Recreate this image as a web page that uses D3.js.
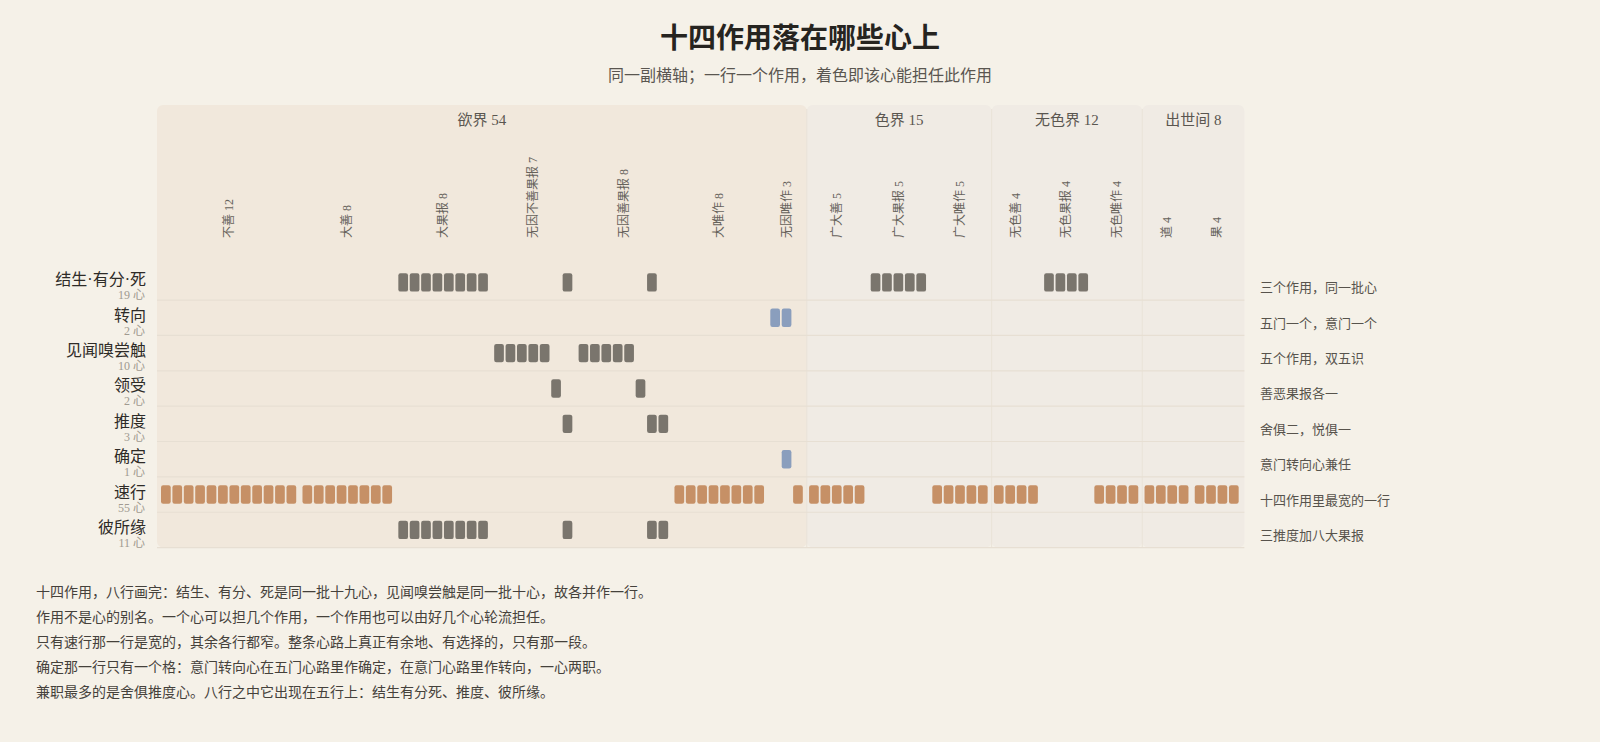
<!DOCTYPE html>
<html>
<head>
<meta charset="utf-8">
<script src="https://cdn.jsdelivr.net/npm/d3@7"></script>
<style>
  html, body { margin: 0; padding: 0; background: #f5f1e8; }
  svg { display: block; font-family: "Liberation Serif", "DejaVu Serif", "Noto Sans CJK SC", serif; }
</style>
</head>
<body>
<svg></svg>
<script>
// realms (top bands)
const realms = ["欲界", "色界", "无色界", "出世间"];
const realmCounts = [54, 15, 12, 8];

// sub-groups along the x axis
const groups = ["不善", "大善", "大果报", "无因不善果报", "无因善果报", "大唯作", "无因唯作",
  "广大善", "广大果报", "广大唯作", "无色善", "无色果报", "无色唯作", "道", "果"];
const groupSizes = [12, 8, 8, 7, 8, 8, 3, 5, 5, 5, 4, 4, 4, 4, 4];
const groupRealm = [0, 0, 0, 0, 0, 0, 0, 1, 1, 1, 2, 2, 2, 3, 3];

// the eight rows (functions)
const functionNames = ["结生·有分·死", "转向", "见闻嗅尝触", "领受", "推度", "确定", "速行", "彼所缘"];
const functionCounts = [19, 2, 10, 2, 3, 1, 55, 11];
const functionNotes = ["三个作用，同一批心", "五门一个，意门一个", "五个作用，双五识", "善恶果报各一",
  "舍俱二，悦俱一", "意门转向心兼任", "十四作用里最宽的一行", "三推度加八大果报"];

// which cittas (0..88, in group order) fill each row
const rowCittas = [
  [20, 21, 22, 23, 24, 25, 26, 27, 34, 41, 59, 60, 61, 62, 63, 73, 74, 75, 76],
  [51, 52],
  [28, 29, 30, 31, 32, 35, 36, 37, 38, 39],
  [33, 40],
  [34, 41, 42],
  [52],
  [0, 1, 2, 3, 4, 5, 6, 7, 8, 9, 10, 11, 12, 13, 14, 15, 16, 17, 18, 19,
   43, 44, 45, 46, 47, 48, 49, 50, 53, 54, 55, 56, 57, 58, 64, 65, 66, 67, 68,
   69, 70, 71, 72, 77, 78, 79, 80, 81, 82, 83, 84, 85, 86, 87, 88],
  [20, 21, 22, 23, 24, 25, 26, 27, 34, 41, 42]
];

const notes = [
  "十四作用，八行画完：结生、有分、死是同一批十九心，见闻嗅尝触是同一批十心，故各并作一行。",
  "作用不是心的别名。一个心可以担几个作用，一个作用也可以由好几个心轮流担任。",
  "只有速行那一行是宽的，其余各行都窄。整条心路上真正有余地、有选择的，只有那一段。",
  "确定那一行只有一个格：意门转向心在五门心路里作确定，在意门心路里作转向，一心两职。",
  "兼职最多的是舍俱推度心。八行之中它出现在五行上：结生有分死、推度、彼所缘。"
];

const width = 1600, height = 742;
const svg = d3.select("svg").attr("width", width).attr("height", height)
  .attr("viewBox", [0, 0, width, height]);

// slot position of each citta: index plus a small gap after every group
const gapUnits = 0.4;
const slot = [];
groupSizes.forEach((n, g) => {
  for (let k = 0; k < n; k++) slot.push(slot.length + g * gapUnits);
});
const totalUnits = slot[slot.length - 1] + 1;

const x = d3.scaleLinear().domain([0, totalUnits]).range([161, 161 + totalUnits * 11.41]);
const cellW = 0.85 * (x(1) - x(0));

const y = d3.scaleBand().domain(functionNames).range([264.7, 547.6]);

const colour = name => name === "速行" ? "#c69066" : (name === "转向" || name === "确定") ? "#8a9ebd" : "#7a756d";

// title
svg.append("text").attr("x", 800).attr("y", 48).attr("text-anchor", "middle")
  .style("font-size", "28px").style("font-weight", "bold").attr("fill", "#262420")
  .text("十四作用落在哪些心上");
svg.append("text").attr("x", 800).attr("y", 81).attr("text-anchor", "middle")
  .style("font-size", "16px").attr("fill", "#5a5650")
  .text("同一副横轴；一行一个作用，着色即该心能担任此作用");

// realm bands
let start = 0;
const realmSpans = realmCounts.map(n => {
  const s = { first: start, last: start + n - 1 };
  start += n;
  return s;
});
const edges = [];
realmSpans.forEach((s, i) => {
  let left, right;
  if (i === 0) left = x(slot[s.first]) - 4;
  else left = (x(slot[s.first - 1] + 1) + x(slot[s.first])) / 2;
  if (i === realmSpans.length - 1) right = x(slot[s.last] + 1) + 4;
  else right = (x(slot[s.last] + 1) + x(slot[s.last + 1])) / 2;
  edges.push([left, right]);
});

const bandTop = 105, bandBottom = y.range()[1];
svg.append("g").selectAll("rect").data(realms).join("rect")
  .attr("x", (d, i) => edges[i][0])
  .attr("y", bandTop)
  .attr("width", (d, i) => edges[i][1] - edges[i][0])
  .attr("height", bandBottom - bandTop)
  .attr("rx", 6)
  .attr("fill", (d, i) => i === 0 ? "#f1e8dc" : "#f0ebe4");

// thin separators between bands
svg.append("g").selectAll("line").data(edges.slice(1)).join("line")
  .attr("x1", d => d[0]).attr("x2", d => d[0])
  .attr("y1", bandTop + 4).attr("y2", bandBottom)
  .attr("stroke", "#e9e2d8").attr("stroke-width", 1);

svg.append("g").selectAll("text").data(realms).join("text")
  .attr("x", (d, i) => (edges[i][0] + edges[i][1]) / 2)
  .attr("y", 125)
  .attr("text-anchor", "middle")
  .style("font-size", "15px").attr("fill", "#5a5650")
  .text((d, i) => `${d} ${realmCounts[i]}`);

// row separators
const x0 = edges[0][0], x1 = edges[edges.length - 1][1];
svg.append("g").selectAll("line").data(functionNames).join("line")
  .attr("x1", x0).attr("x2", x1)
  .attr("y1", d => y(d) + y.bandwidth())
  .attr("y2", d => y(d) + y.bandwidth())
  .attr("stroke", "#e7dfd3").attr("stroke-width", 1.2);

// group labels (rotated, reading upwards from the baseline)
let gStart = 0;
const groupCenters = groupSizes.map(n => {
  const a = x(slot[gStart]), b = x(slot[gStart + n - 1]) + cellW;
  gStart += n;
  return (a + b) / 2;
});
svg.append("g").selectAll("text").data(groups).join("text")
  .attr("transform", (d, i) => `translate(${groupCenters[i]}, 238) rotate(-90)`)
  .attr("dy", "0.35em")
  .attr("text-anchor", "start")
  .style("font-size", "12px").attr("fill", "#66625b")
  .text((d, i) => `${d} ${groupSizes[i]}`);

// row labels
const rowLabels = svg.append("g");
rowLabels.selectAll("text.name").data(functionNames).join("text")
  .attr("class", "name")
  .attr("x", 146).attr("y", d => y(d) + y.bandwidth() / 2 + 3)
  .attr("text-anchor", "end")
  .style("font-size", "16px").attr("fill", "#2e2b27")
  .text(d => d);
rowLabels.selectAll("text.count").data(functionNames).join("text")
  .attr("class", "count")
  .attr("x", 145).attr("y", d => y(d) + y.bandwidth() / 2 + 17)
  .attr("text-anchor", "end")
  .style("font-size", "12px").attr("fill", "#a09a90")
  .text((d, i) => `${functionCounts[i]} 心`);

// notes on the right
svg.append("g").selectAll("text").data(functionNotes).join("text")
  .attr("x", 1260)
  .attr("y", (d, i) => y(functionNames[i]) + y.bandwidth() / 2 + 10)
  .style("font-size", "13px").attr("fill", "#57534c")
  .text(d => d);

// cells
const cells = [];
rowCittas.forEach((list, r) => list.forEach(c => cells.push({ row: functionNames[r], c })));
svg.append("g").selectAll("rect").data(cells).join("rect")
  .attr("x", d => x(slot[d.c]))
  .attr("y", d => y(d.row) + y.bandwidth() / 2 - 9.2)
  .attr("width", cellW)
  .attr("height", 18.4)
  .attr("rx", 2.2)
  .attr("fill", d => colour(d.row));

// footer notes
svg.append("g").selectAll("text").data(notes).join("text")
  .attr("x", 36)
  .attr("y", (d, i) => 597 + i * 25)
  .style("font-size", "14px").attr("fill", "#45413b")
  .text(d => d);
</script>
</body>
</html>
